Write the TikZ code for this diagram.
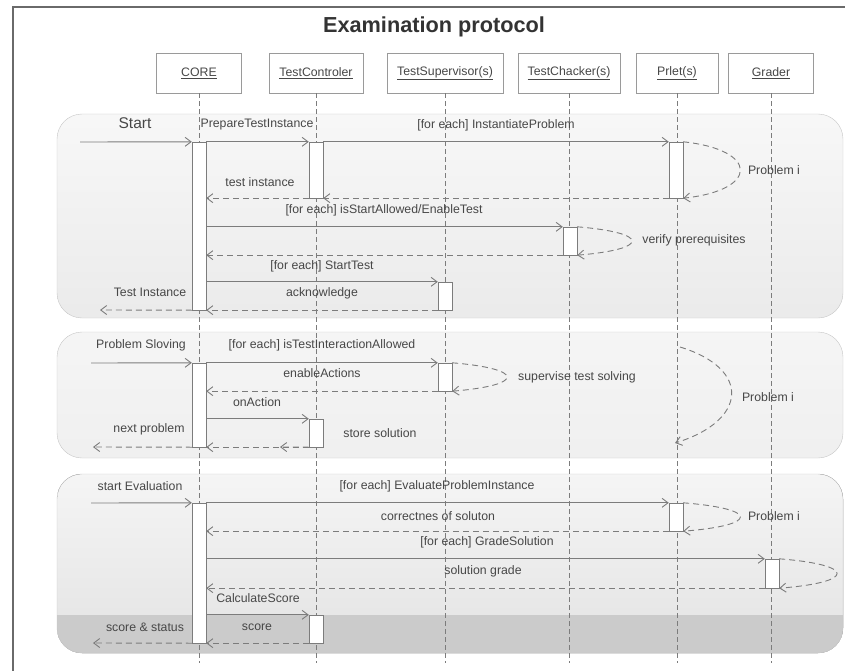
\documentclass[tikz,border=0pt]{standalone}
\usepackage{fontspec}
\setmainfont{Liberation Sans}
\usetikzlibrary{arrows.meta}
\definecolor{txtgray}{HTML}{474747}
\definecolor{lngray}{HTML}{7C7C7C}
\definecolor{boxgray}{HTML}{9A9A9A}
\definecolor{panelgray}{HTML}{C6C6C6}
\definecolor{bandgray}{HTML}{CBCBCB}
\definecolor{framegray}{HTML}{6A6A6A}

\begin{document}
\begin{tikzpicture}[x=1pt,y=-1pt,
    every node/.style={font=\fontsize{12.3}{14}\selectfont, text=txtgray},
    head/.style={draw=boxgray, fill=white, minimum height=40pt, inner sep=0pt},
    bar/.style={draw=lngray, fill=white, minimum width=14pt, inner sep=0pt},
    life/.style={draw=lngray, dash pattern=on 5pt off 3pt},
    msg/.style={draw=lngray, line width=0.9pt, -{Straight Barb[length=6pt,width=9pt]}},
    ret/.style={msg, dash pattern=on 6pt off 4pt},
    panel/.style={draw=panelgray, rounded corners=25pt}]
            % \helpgrid{845}{671}
            \useasboundingbox (0,0) rectangle (845,671);
            \draw [framegray, line width=1.2pt] (13,671) -- (13,7) -- (845,7);

            % panels
            \draw [panel, top color=white!97!black, bottom color=white!92!black] (57,114) rectangle (843,318);
            \draw [panel, top color=white!96!black, middle color=white!88!black, bottom color=white!94!black] (57,332) rectangle (843,458);
            \fill [rounded corners=25pt, top color=white!96!black, bottom color=white!89!black] (57,474) rectangle (843,653);
            \begin{scope}
              \clip [rounded corners=25pt] (57,474) rectangle (843,653);
              \fill [bandgray] (57,615) rectangle (843,653);
            \end{scope}
            \draw [panel] (57,474) rectangle (843,653);

            \node [font=\fontsize{21.7}{24}\selectfont\bfseries, text=black!80] (title) at (434,27) {Examination protocol};

            % lifelines
            \node [head, minimum width=85pt] (core) at (199,73) {\underline{CORE}};
            \node [head, minimum width=94pt] (ctrl) at (316,73) {\underline{TestControler}};
            \node [head, minimum width=116pt] (sup) at (445,73) {\underline{TestSupervisor(s)}};
            \node [head, minimum width=102pt] (chk) at (569,73) {\underline{TestChacker(s)}};
            \node [head, minimum width=82pt] (prl) at (677,73) {\underline{Prlet(s)}};
            \node [head, minimum width=85pt] (grd) at (771,73) {\underline{Grader}};
            \foreach \n in {core,ctrl,sup,chk,prl,grd}
              \draw [life] (\n.south) -- ++(0,570);

            % start
            \node [bar, minimum height=168pt] (c1) at (199,226) {};
            \node [bar, minimum height=56pt] (t1) at (316,170) {};
            \node [bar, minimum height=56pt] (p1) at (676,170) {};
            \node [bar, minimum height=28pt] (k1) at (570,241) {};
            \node [bar, minimum height=28pt] (s1) at (445,296) {};
            \coordinate (in1) at (80,142);
            \coordinate (out1) at (100,310);
            \node [font=\fontsize{15.5}{18}\selectfont] (lstart) at (135,123) {Start};
            \draw [msg] (in1) -- (c1.north west);
            \draw [msg] (c1.north east) -- (t1.north west) ;
            \node (lprep) at (257,125) {PrepareTestInstance};
            \draw [msg] (t1.north east) -- (p1.north west);
            \node (linst) at (496,125) {[for each] InstantiateProblem};
            \draw [ret] (p1.north east) .. controls +(76,8) and +(76,-8) .. (p1.south east);
            \node (lprob1) at (774,170) {Problem i};
            \draw [ret] (p1.south west) -- (t1.south east);
            \draw [ret] (t1.south west) -- (t1.south west -| c1.east);
            \node (ltinst) at (260,182) {test instance};
            \draw [msg] (k1.north west -| c1.east) -- (k1.north west);
            \node (lallow) at (384,210) {[for each] isStartAllowed/EnableTest};
            \draw [ret] (k1.north east) .. controls +(73,6) and +(73,-6) .. (k1.south east);
            \node (lverify) at (694,240) {verify prerequisites};
            \draw [ret] (k1.south west) -- (k1.south west -| c1.east);
            \draw [msg] (s1.north west -| c1.east) -- (s1.north west);
            \node (lstest) at (322,266) {[for each] StartTest};
            \draw [ret] (s1.south west) -- (c1.south east);
            \node (lack) at (322,293) {acknowledge};
            \draw [ret] (c1.south west) -- (out1);
            \node (lTinst) at (150,292) {Test Instance};

            % solving
            \node [bar, minimum height=84pt] (c2) at (199,405) {};
            \node [bar, minimum height=28pt] (s2) at (445,377) {};
            \node [bar, minimum height=28pt] (t2) at (316,433) {};
            \coordinate (in2) at (91,363);
            \coordinate (out2) at (93,447);
            \coordinate (mid2) at (280,447);
            \coordinate (pa) at (680,347);
            \coordinate (pb) at (675,443);
            \draw [msg] (in2) -- (c2.north west);
            \node (lsolv) at (141,345) {Problem Sloving};
            \draw [msg] (c2.north east) -- (s2.north west);
            \node (linter) at (322,345) {[for each] isTestInteractionAllowed};
            \draw [ret] (s2.north east) .. controls +(73,6) and +(73,-6) .. (s2.south east);
            \node (lsuper) at (577,377) {supervise test solving};
            \draw [ret] (s2.south west) -- (s2.south west -| c2.east);
            \node (lenab) at (322,373) {enableActions};
            \draw [msg] (t2.north west -| c2.east) -- (t2.north west);
            \node (lonact) at (257,402) {onAction};
            \node (lstore) at (380,433) {store solution};
            \draw [ret] (t2.south west) -- (c2.south east);
            \draw [ret] (t2.south west) -- (mid2);
            \draw [ret] (c2.south west) -- (out2);
            \node (lnext) at (149,429) {next problem};
            \draw [ret] (pa) .. controls +(72,22) and +(72,-22) .. (pb);
            \node (lprob2) at (768,397) {Problem i};

            % evaluation
            \node [bar, minimum height=140pt] (c3) at (199,573) {};
            \node [bar, minimum height=28pt] (p3) at (676,517) {};
            \node [bar, minimum height=29pt] (g3) at (772,573.5) {};
            \node [bar, minimum height=28pt] (t3) at (316,629) {};
            \coordinate (in3) at (91,503);
            \coordinate (out3) at (93,643);
            \draw [msg] (in3) -- (c3.north west);
            \node (leval) at (140,486) {start Evaluation};
            \draw [msg] (c3.north east) -- (p3.north west);
            \node (lepi) at (437,486) {[for each] EvaluateProblemInstance};
            \draw [ret] (p3.north east) .. controls +(76,6) and +(76,-6) .. (p3.south east);
            \node (lprob3) at (774,516) {Problem i};
            \draw [ret] (p3.south west) -- (p3.south west -| c3.east);
            \node (lcorr) at (438,516) {correctnes of soluton};
            \draw [msg] (g3.north west -| c3.east) -- (g3.north west);
            \node (lgrade) at (487,542) {[for each] GradeSolution};
            \draw [ret] (g3.north east) .. controls +(77,6) and +(77,-6) .. (g3.south east);
            \draw [ret] (g3.south west) -- (g3.south west -| c3.east);
            \node (lsgrade) at (483,571) {solution grade};
            \draw [msg] (t3.north west -| c3.east) -- (t3.north west);
            \node (lcalc) at (258,598) {CalculateScore};
            \draw [ret] (t3.south west) -- (c3.south east);
            \node (lscore) at (257,627) {score};
            \draw [ret] (c3.south west) -- (out3);
            \node (lstat) at (145,627) {score \& status};
\end{tikzpicture}
\end{document}
